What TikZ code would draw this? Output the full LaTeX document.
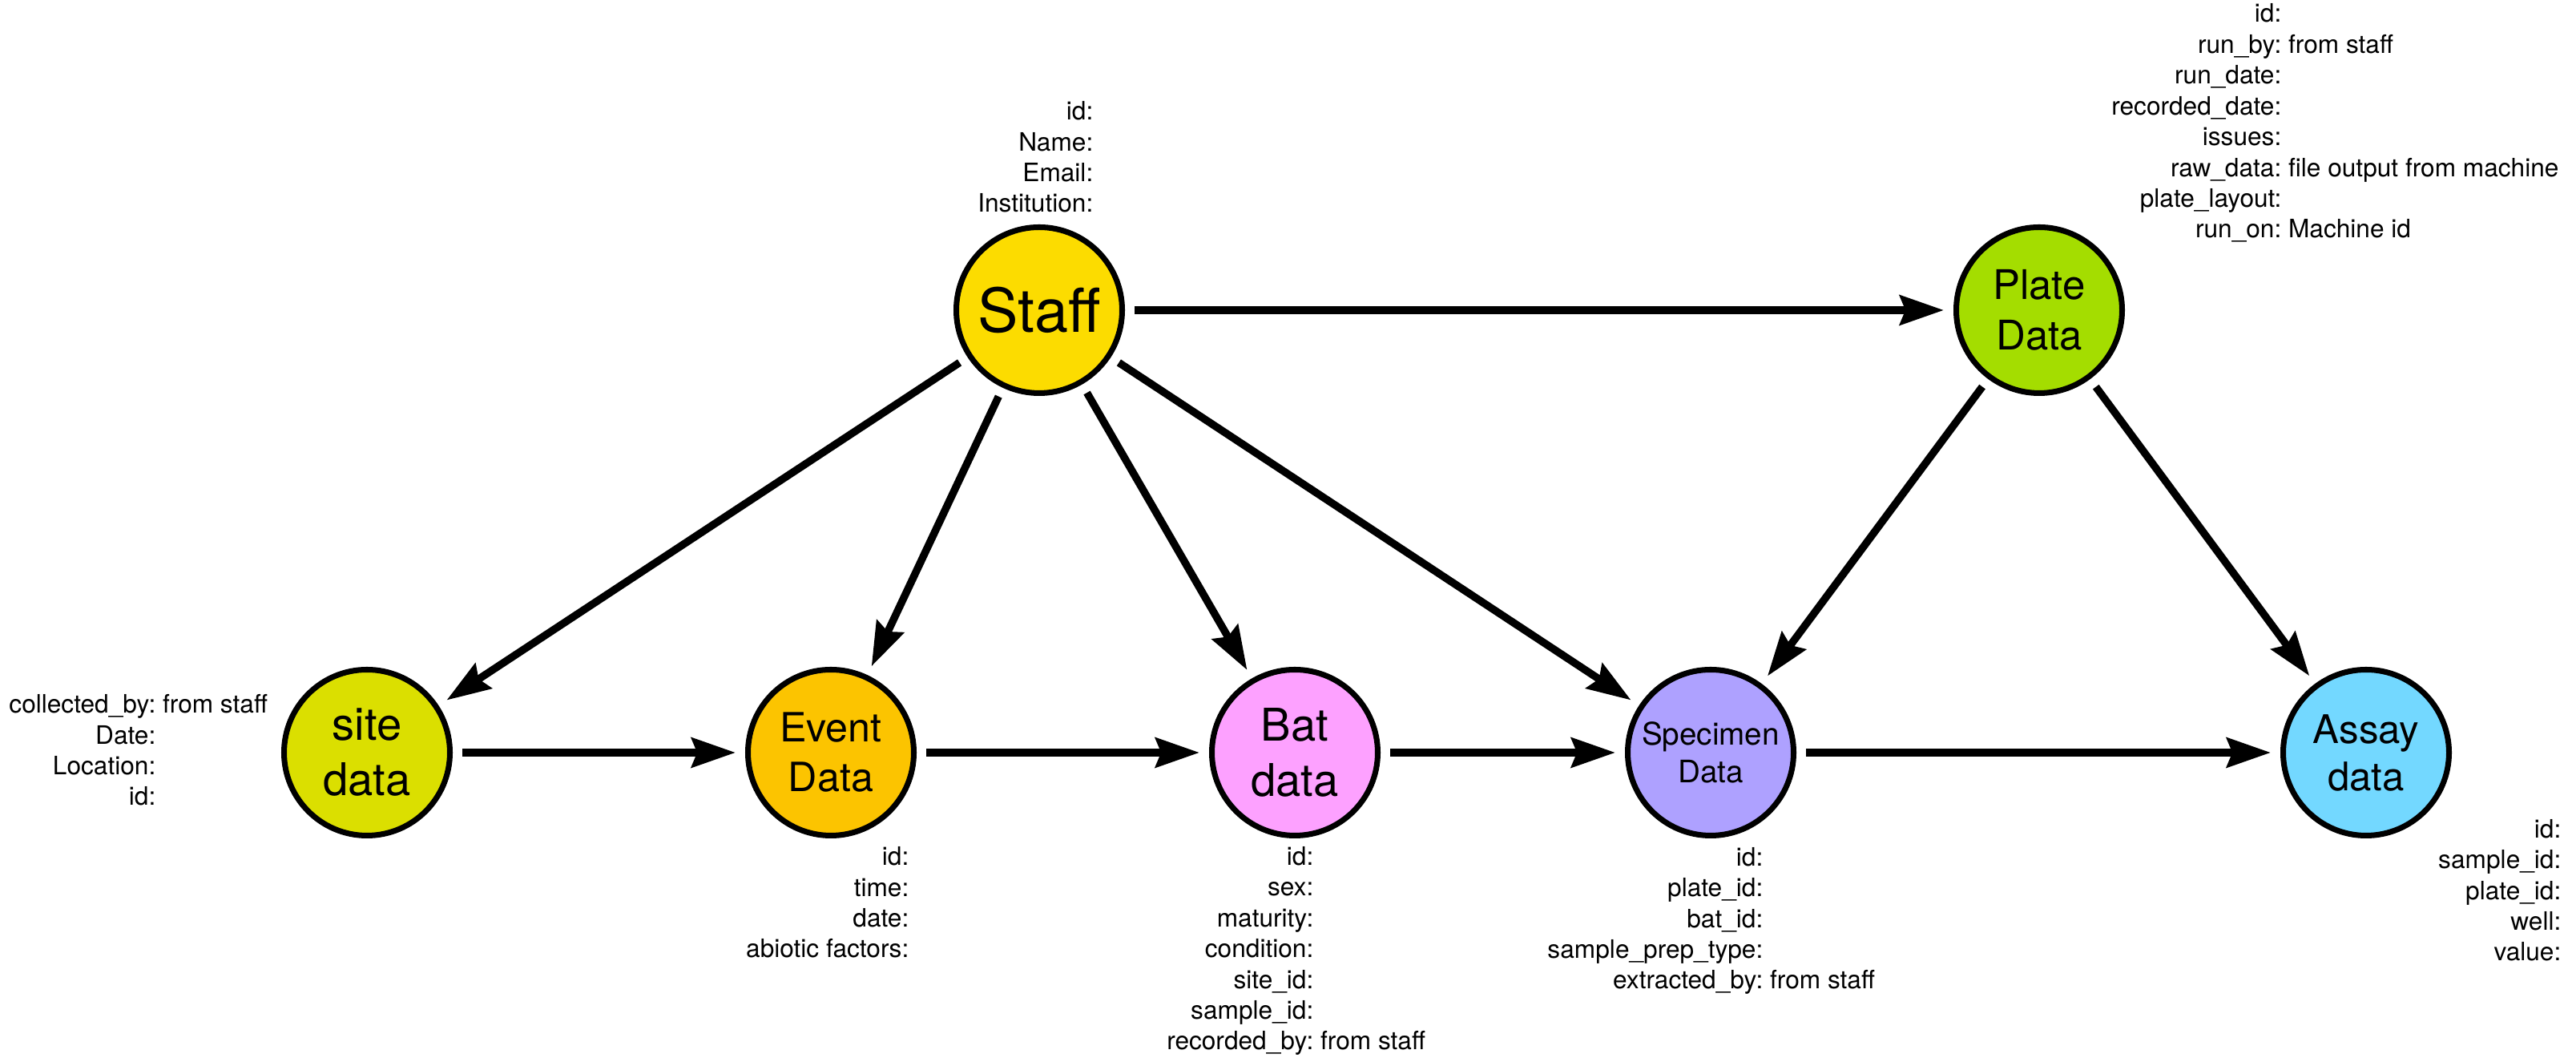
\documentclass[tikz,border=0pt]{standalone}
\usepackage{fontspec}
\setmainfont{TeX Gyre Heros}
\usepackage{tikz}
\usetikzlibrary{arrows.meta, positioning}
\definecolor{staffY}{HTML}{FCDC00}
\definecolor{siteY}{HTML}{DBDF00}
\definecolor{plateG}{HTML}{A4DD00}
\definecolor{eventO}{HTML}{FCC400}
\definecolor{batP}{HTML}{FDA1FF}
\definecolor{specP}{HTML}{AEA1FF}
\definecolor{assayB}{HTML}{73D8FF}

\begin{document}
\begin{tikzpicture}[
    entity/.style={circle,draw,line width=2pt,minimum size=2.07cm,inner sep=0pt,
      outer sep=0.155cm,align=center},
    fields/.style={align=right,inner sep=0pt,anchor=base east,
      font=\fontsize{9}{10.95}\selectfont},
    flow/.style={-{Stealth[length=15.6pt,width=10.5pt,inset=2pt]},line width=2.7pt}
  ]
  \useasboundingbox (0,0) rectangle (32.15,13.2);

  % top row
  \node[entity,fill=staffY,font=\fontsize{21.5}{26}\selectfont] (staff) at (12.97,9.33) {Staff};
  \node[entity,fill=plateG,font=\fontsize{14.5}{18}\selectfont] (plate) at (25.45,9.33) {Plate\\Data};

  % bottom row
  \node[entity,fill=siteY,font=\fontsize{16}{19.6}\selectfont] (site) at (4.58,3.81) {site\\data};
  \node[entity,fill=eventO,font=\fontsize{14.3}{17.6}\selectfont] (event) at (10.37,3.81) {Event\\Data};
  \node[entity,fill=batP,font=\fontsize{16}{19.6}\selectfont] (bat) at (16.16,3.81) {Bat\\data};
  \node[entity,fill=specP,font=\fontsize{11}{13.4}\selectfont] (specimen) at (21.35,3.81) {Specimen\\Data};
  \node[entity,fill=assayB,font=\fontsize{14}{16.8}\selectfont] (assay) at (29.53,3.81) {Assay\\data};

  % field lists
  \node[fields] (stafff) at (13.65,10.55) {id:\\Name:\\Email:\\Institution:};
  \node[fields] (platef) at (28.48,10.23) {id:\\run\_by:\rlap{\ from staff}\\run\_date:\\recorded\_date:\\
    issues:\\raw\_data:\rlap{\ file output from machine}\\plate\_layout:\\run\_on:\rlap{\ Machine id}};
  \node[fields] (sitef) at (1.95,3.15) {collected\_by:\rlap{\ from staff}\\Date:\\Location:\\id:};
  \node[fields] (eventf) at (11.35,1.25) {id:\\time:\\date:\\abiotic factors:};
  \node[fields] (batf) at (16.40,0.10) {id:\\sex:\\maturity:\\condition:\\site\_id:\\sample\_id:\\
    recorded\_by:\rlap{\ from staff}};
  \node[fields] (specimenf) at (22.01,0.86) {id:\\plate\_id:\\bat\_id:\\sample\_prep\_type:\\
    extracted\_by:\rlap{\ from staff}};
  \node[fields] (assayf) at (31.97,1.21) {id:\\sample\_id:\\plate\_id:\\well:\\value:};

  % links from staff
  \draw[flow] (staff) -- (plate);
  \draw[flow] (staff) -- (site);
  \draw[flow] (staff) -- (event);
  \draw[flow] (staff) -- (bat);
  \draw[flow] (staff) -- (specimen);

  % links from plate
  \draw[flow] (plate) -- (specimen);
  \draw[flow] (plate) -- (assay);

  % main chain
  \draw[flow] (site) -- (event);
  \draw[flow] (event) -- (bat);
  \draw[flow] (bat) -- (specimen);
  \draw[flow] (specimen) -- (assay);

\end{tikzpicture}
\end{document}
